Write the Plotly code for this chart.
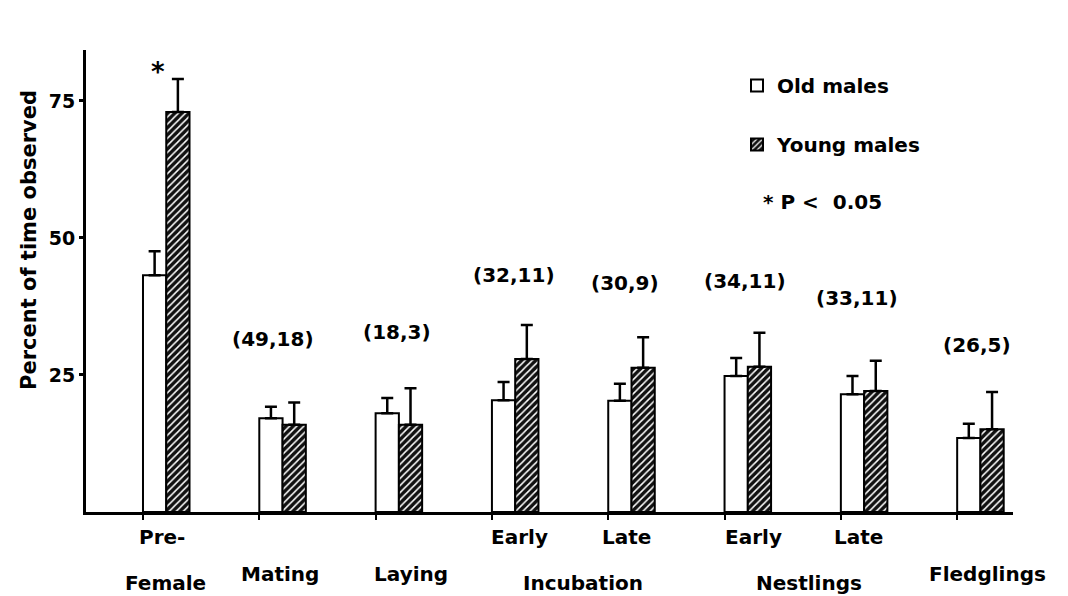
import plotly.graph_objects as go

# ---------------- data ----------------
categories = ["Pre-Female", "Mating", "Laying", "Incubation Early",
              "Incubation Late", "Nestlings Early", "Nestlings Late", "Fledglings"]
old_mean = [43.2, 17.1, 18.0, 20.4, 20.3, 24.8, 21.5, 13.5]
old_err = [4.4, 2.1, 2.8, 3.3, 3.1, 3.3, 3.3, 2.6]
young_mean = [73.0, 15.9, 15.9, 27.9, 26.3, 26.5, 22.1, 15.1]
young_err = [6.0, 4.1, 6.7, 6.2, 5.6, 6.2, 5.5, 6.8]
sample_sizes = ["(35,7)", "(49,18)", "(18,3)", "(32,11)", "(30,9)", "(34,11)", "(33,11)", "(26,5)"]
significant = [True, False, False, False, False, False, False, False]
y_ticks = [25, 50, 75]

# sub-labels (first row) and main labels (second row)
row1_labels = ["Pre-", "", "", "Early", "Late", "Early", "Late", ""]
single_labels = ["", "Mating", "Laying", "", "", "", "", "Fledglings"]
row2_labels = [("Female", 0, 0), ("Incubation", 3, 4), ("Nestlings", 5, 6)]

# ---------------- layout / style ----------------
FONT = "DejaVu Sans"
BW = 0.2  # bar width in category units
xpos = list(range(len(categories)))
SAMPLE_LABEL_Y = [88.3, 31.6, 32.8, 43.2, 41.8, 42.2, 39.1, 30.5]
SAMPLE_LABEL_DX = [0.17, 0.12, 0.18, 0.19, 0.14, 0.18, 0.14, 0.17]
ROW1_DX = [0.16, 0, 0, 0.24, 0.16, 0.25, 0.15, 0]
SINGLE_DX = [0, 0.18, 0.30, 0, 0, 0, 0, 0.26]
ROW2_DX = [0.19, 0.28, 0.23]

fig = go.Figure()
fig.add_trace(go.Bar(
    x=xpos, y=old_mean, name="Old males", width=BW, offset=0,
    legendgroup="old",
    marker=dict(color="white", line=dict(color="black", width=2)),
    error_y=dict(type="data", symmetric=False, array=old_err,
                 arrayminus=[0] * len(old_err), color="black",
                 thickness=2.5, width=6),
))
fig.add_trace(go.Bar(
    x=xpos, y=young_mean, name="Young males", width=BW, offset=BW,
    legendgroup="young",
    marker=dict(color="#111111", line=dict(color="black", width=2),
                pattern=dict(shape="/", bgcolor="#111111", fgcolor="white",
                             size=5, solidity=0.3, fillmode="replace")),
    error_y=dict(type="data", symmetric=False, array=young_err,
                 arrayminus=[0] * len(young_err), color="black",
                 thickness=2.5, width=6),
))

ann = []
for i, s in enumerate(sample_sizes):
    ann.append(dict(x=i + SAMPLE_LABEL_DX[i], y=SAMPLE_LABEL_Y[i], xref="x", yref="y",
                    text=s, showarrow=False, font=dict(size=20)))
    if significant[i]:
        ann.append(dict(x=i + 0.13, y=young_mean[i] + young_err[i] + 1.2,
                        xref="x", yref="y", text="*", showarrow=False,
                        font=dict(size=26)))
    if row1_labels[i]:
        ann.append(dict(x=i + ROW1_DX[i], y=-0.054, xref="x", yref="paper",
                        text=row1_labels[i], showarrow=False,
                        font=dict(size=20), yanchor="middle"))
    if single_labels[i]:
        ann.append(dict(x=i + SINGLE_DX[i], y=-0.134, xref="x", yref="paper",
                        text=single_labels[i], showarrow=False,
                        font=dict(size=20), yanchor="middle"))
for k, (txt, a, b) in enumerate(row2_labels):
    ann.append(dict(x=(a + b) / 2 + ROW2_DX[k], y=-0.154, xref="x", yref="paper",
                    text=txt, showarrow=False, font=dict(size=20),
                    yanchor="middle"))

ann.append(dict(x=(29 - 86) / 927, y=(512 - 240) / 462, xref="paper", yref="paper",
                text="Percent of time observed", textangle=-90, showarrow=False,
                font=dict(size=21), xanchor="center", yanchor="middle"))
ann.append(dict(x=(822 - 86) / 927, y=(512 - 202) / 462, xref="paper", yref="paper",
                text="* P <  0.05", showarrow=False, font=dict(size=20),
                xanchor="center", yanchor="middle"))

# page body adds an 8px offset; plot area is placed accordingly
fig.update_layout(
    width=1060, height=588,
    margin=dict(l=78, r=55, t=42, b=84, autoexpand=False),
    paper_bgcolor="white", plot_bgcolor="white",
    font=dict(family=FONT, size=20, color="black", weight="bold"),
    barmode="overlay",
    showlegend=True,
    legend=dict(x=(737 - 86) / 927, y=(512 - 66) / 462, xanchor="left", yanchor="top",
                traceorder="grouped", tracegroupgap=30,
                font=dict(size=20, family=FONT, weight="bold"),
                bgcolor="rgba(0,0,0,0)"),
    annotations=ann,
    xaxis=dict(range=[-0.49, 7.48], showline=True, linecolor="black", linewidth=3,
               tickvals=xpos, showticklabels=False, ticks="outside",
               ticklen=5, tickwidth=2, tickcolor="black",
               showgrid=False, zeroline=False),
    yaxis=dict(range=[0, 84.3], showline=True, linecolor="black", linewidth=3,
               tickvals=y_ticks, ticks="outside", ticklen=4, tickwidth=3,
               tickcolor="black", tickfont=dict(size=19),
               showgrid=False, zeroline=False),
)

fig.write_html("out.html")
